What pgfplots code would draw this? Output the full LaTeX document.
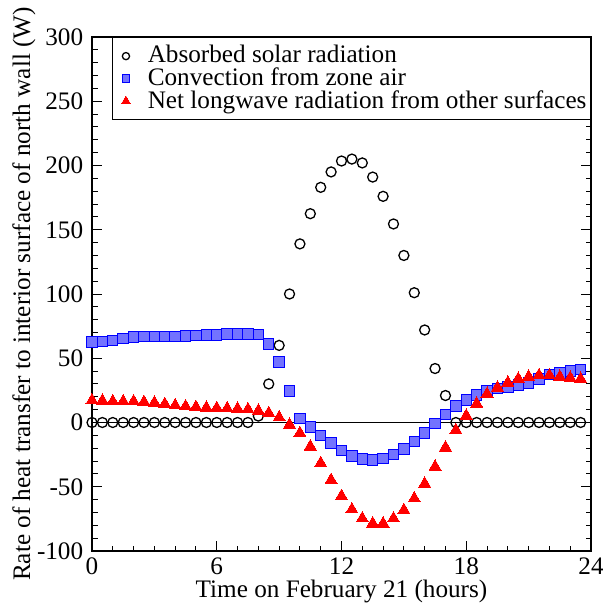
\documentclass[border=0pt]{standalone}
\usepackage{fontspec}
\setmainfont{Liberation Serif}
\usepackage{pgfplots}
\pgfplotsset{compat=1.18}
\definecolor{sqfill}{RGB}{115,115,255}
\pgfplotstableread{
t sol conv lw
0.0 0 62.5 17.2
0.5 0 63.0 16.9
1.0 0 64.0 16.4
1.5 0 65.4 16.4
2.0 0 66.4 16.4
2.5 0 67.0 15.9
3.0 0 67.0 15.4
3.5 0 67.0 14.3
4.0 0 67.0 13.3
4.5 0 67.2 12.5
5.0 0 67.7 12.0
5.5 0 68.0 11.5
6.0 0 68.2 11.2
6.5 0 68.8 10.9
7.0 0 69.0 10.7
7.5 0 69.0 10.2
8.0 5 68.5 9.1
8.5 30 61.0 7.3
9.0 60 47.0 3.9
9.5 100 24.5 -1.8
10.0 139 2.9 -8.3
10.5 162.5 -3.4 -18.7
11.0 183 -9.9 -31.7
11.5 195 -16.1 -44.8
12.0 203.5 -21.6 -57.3
12.5 205 -26.0 -67.7
13.0 202 -28.4 -74.7
13.5 191 -29.2 -78.6
14.0 176 -28.1 -78.6
14.5 154.5 -25.0 -74.7
15.0 130 -20.5 -68.2
15.5 101 -14.6 -59.1
16.0 72 -8.3 -47.7
16.5 42 -1.0 -34.4
17.0 21 6.4 -19.5
17.5 0 12.9 -6.0
18.0 0 17.5 5.2
18.5 0 21.4 14.6
19.0 0 24.5 22.2
19.5 0 26.3 27.1
20.0 0 27.6 31.0
20.5 0 29.2 33.9
21.0 0 30.8 35.5
21.5 0 33.9 36.7
22.0 0 37.3 36.7
22.5 0 38.6 35.5
23.0 0 40.2 34.7
23.5 0 41.4 33.9
}\datatable
\begin{document}
\fontsize{12.6}{14}\selectfont
\begin{tikzpicture}
\begin{axis}[
  scale only axis, width=249.5pt, height=257pt,
  xmin=0, xmax=24, ymin=-100, ymax=300,
  xtick={0,6,...,24}, ytick={-100,-50,...,300},
  minor x tick num=5, minor y tick num=4,
  tick align=inside, major tick length=5pt, minor tick length=2.75pt,
  tick style={black, line width=0.5pt},
  axis line style={line width=0.65pt},
  /pgf/number format/assume math mode=true,
  ticklabel style={font=\fontsize{12.6}{14}\selectfont},
  xticklabel style={yshift=1pt},
  xlabel={Time on February 21 (hours)},
  ylabel={Rate of heat transfer to interior surface of north wall (W)},
  label style={font=\fontsize{12.6}{14}\selectfont, inner sep=0pt},
  xlabel style={at={(axis description cs:0.5,-0.0914)}, anchor=base},
  ylabel style={at={(axis description cs:-0.1242,0.5)}, anchor=base, rotate=0},
  legend style={at={(1,1)}, anchor=north east, draw=black, line width=0.5pt,
    font=\fontsize{12.6}{14}\selectfont, row sep=-3.5pt, inner xsep=0pt, inner ysep=2pt},
  legend cell align=left,
  legend image code/.code={\path (-6.35pt,0pt) (8.65pt,0pt);
    \draw[#1,/tikz/every mark/.append style={scale=0.72}] plot coordinates {(0pt,0pt)};},
]
\addplot[black, line width=0.5pt, no markers, forget plot] coordinates {(0,0) (24,0)};
\addplot[only marks, mark=o, mark size=2.5pt, black, mark options={line width=0.65pt}] table[x=t, y=sol] {\datatable};
\addlegendentry{Absorbed solar radiation}
\addplot[only marks, mark=square*, mark size=2.6pt, draw=blue, fill=sqfill, mark options={line width=0.5pt}] table[x=t, y=conv] {\datatable};
\addlegendentry{Convection from zone air}
\addplot[only marks, mark=triangle*, mark size=3.5pt, red, mark options={line width=0pt}] table[x=t, y=lw] {\datatable};
\addlegendentry{Net longwave radiation from other surfaces}
\end{axis}
\pgfresetboundingbox
\path ([xshift=-46pt,yshift=-26pt]current axis.south west) rectangle ([xshift=6pt,yshift=18.5pt]current axis.north east);
\end{tikzpicture}
\end{document}
